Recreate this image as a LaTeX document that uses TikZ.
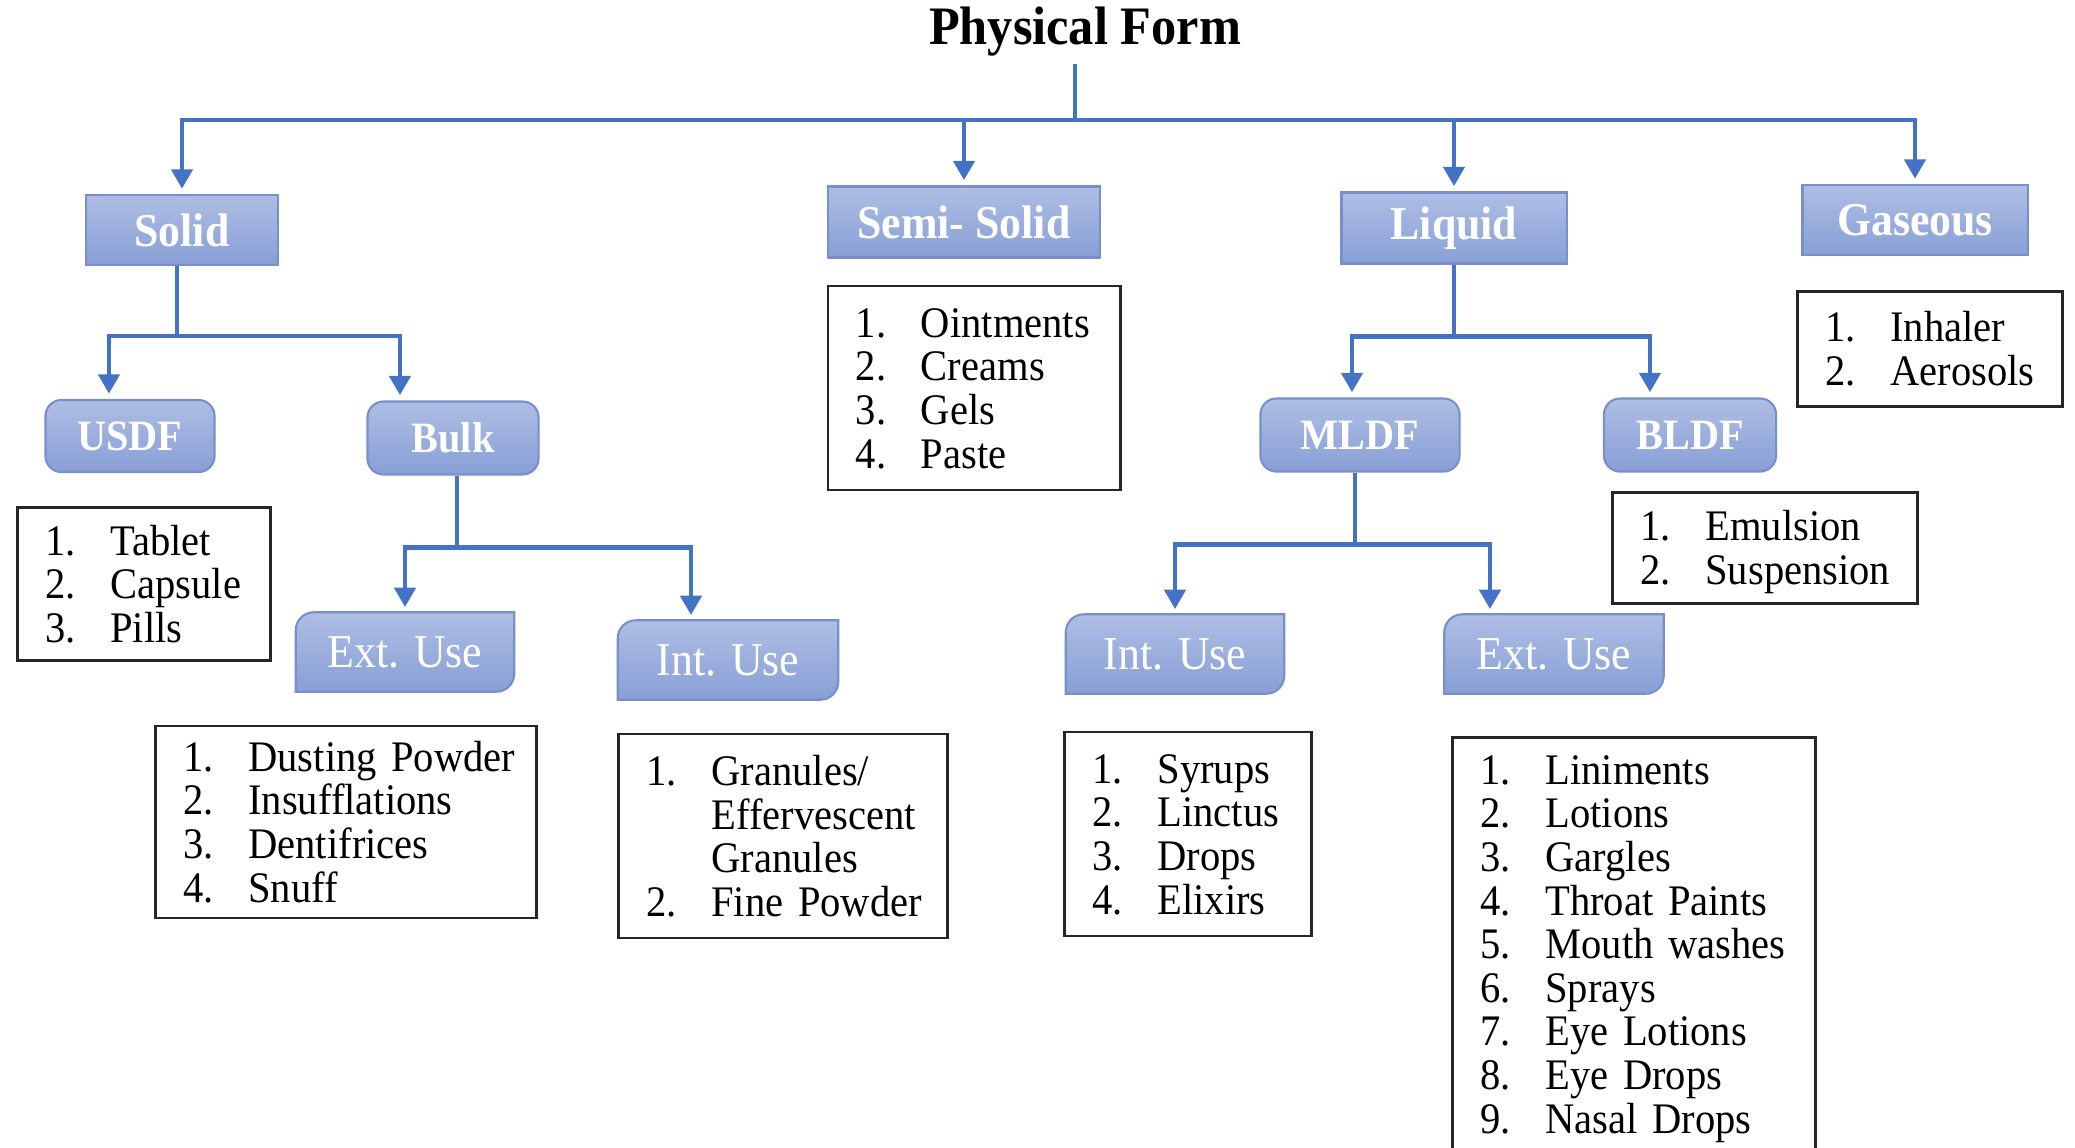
\documentclass[tikz,border=0pt]{standalone}
\usepackage{fontspec}
\setmainfont[FakeStretch=0.93]{Liberation Serif}
\usetikzlibrary{arrows.meta,backgrounds}

\definecolor{linkblue}{RGB}{68,114,196}
\definecolor{boxtop}{RGB}{174,190,228}
\definecolor{boxbot}{RGB}{136,159,214}
\definecolor{boxedge}{RGB}{120,143,203}

\tikzset{
  link/.style={draw=linkblue, line width=1.2pt},
  arr/.style={link, -{Triangle[width=6pt,length=5.5pt]}, shorten >=1.5pt},
  formbox/.style={rectangle, draw=boxedge, line width=0.6pt, top color=boxtop, bottom color=boxbot,
    text=white, inner sep=0pt, font=\fontsize{13.4}{15}\selectfont\bfseries},
  typebox/.style={formbox, rounded corners=0.16cm, font=\fontsize{12.3}{14}\selectfont\bfseries},
  usebox/.style={rectangle, inner sep=0pt, text=white, font=\fontsize{13.4}{15}\selectfont},
  usefill/.style={draw=boxedge, line width=0.6pt, top color=boxtop, bottom color=boxbot},
  listbox/.style={rectangle, draw=black!85, line width=0.8pt, inner xsep=0.28cm, inner ysep=0pt,
    align=left, font=\fontsize{12.4}{12.4}\selectfont},
}
\newcommand{\items}[1]{\raisebox{0pt}[\dimexpr\height+0.12cm\relax][\depth]{%
  \begin{tabular}{@{}p{0.65cm}@{}l@{}}#1\end{tabular}}}

\begin{document}
\begin{tikzpicture}[x=0.01cm, y=-0.01cm]

        \useasboundingbox (0,0) rectangle (2075,1147);

        %Title
        \node [font=\fontsize{15.4}{17}\selectfont\bfseries] (title) at (1085,32) {Physical Form};
        \coordinate (root) at (1075,64);
        \coordinate (hub) at (1075,120);

        %Physical forms
        \node [formbox, minimum width=1.92cm, minimum height=0.70cm] (solid) at (182,230) {Solid};
        \node [formbox, minimum width=2.72cm, minimum height=0.71cm] (semi) at (964,222) {Semi- Solid};
        \node [formbox, minimum width=2.25cm, minimum height=0.71cm] (liquid) at (1454,228) {Liquid};
        \node [formbox, minimum width=2.25cm, minimum height=0.70cm] (gas) at (1915,220) {Gaseous};

        \draw [link] (root) -- (hub);
        \draw [arr] (hub) -| (solid.north);
        \draw [arr] (hub) -| (semi.north);
        \draw [arr] (hub) -| (liquid.north);
        \draw [arr] (hub) -| (gas.north);

        %Solid
        \node [typebox, minimum width=1.69cm, minimum height=0.72cm] (usdf) at (130,436) {USDF};
        \node [typebox, minimum width=1.71cm, minimum height=0.73cm] (bulk) at (453,438) {Bulk};
        \draw [link] ([xshift=-0.05cm]solid.south) -- ++(0,70) coordinate (sj);
        \draw [arr] (sj) -| ([xshift=-0.21cm]usdf.north);
        \draw [arr] (sj) -| ([xshift=-0.53cm]bulk.north);

        \node [listbox, text width=1.97cm, minimum height=1.53cm] (usdflist) at (144,584)
          {\items{1. & Tablet\\ 2. & Capsule\\ 3. & Pills}};

        %Bulk
        \node [usebox, minimum width=2.17cm, minimum height=0.78cm] (bext) at (405,652) {Ext. Use};
        \node [usebox, minimum width=2.19cm, minimum height=0.78cm] (bint) at (728,660) {Int. Use};
        \draw [link] ([xshift=0.04cm]bulk.south) -- ++(0,72) coordinate (bj);
        \draw [arr] (bj) -| (bext.north);
        \draw [arr] (bj) -| ([xshift=-0.37cm]bint.north);

        \node [listbox, text width=3.25cm, minimum height=1.92cm] (bextlist) at (346,822)
          {\items{1. & Dusting Powder\\ 2. & Insufflations\\ 3. & Dentifrices\\ 4. & Snuff}};
        \node [listbox, text width=2.73cm, minimum height=2.04cm] (bintlist) at (783,836)
          {\items{1. & Granules/\\ & Effervescent\\ & Granules\\ 2. & Fine Powder}};

        %Semi-solid
        \node [listbox, text width=2.36cm, minimum height=2.04cm] (semilist) at (974,388)
          {\items{1. & Ointments\\ 2. & Creams\\ 3. & Gels\\ 4. & Paste}};

        %Liquid
        \node [typebox, minimum width=1.99cm, minimum height=0.73cm] (mldf) at (1360,435) {MLDF};
        \node [typebox, minimum width=1.72cm, minimum height=0.73cm] (bldf) at (1690,435) {BLDF};
        \draw [link] (liquid.south) -- ++(0,72) coordinate (lj);
        \draw [arr] (lj) -| ([xshift=-0.08cm]mldf.north);
        \draw [arr] (lj) -| ([xshift=-0.40cm]bldf.north);

        \node [listbox, text width=2.49cm, minimum height=1.11cm] (bldflist) at (1765,548)
          {\items{1. & Emulsion\\ 2. & Suspension}};

        %MLDF
        \node [usebox, minimum width=2.17cm, minimum height=0.78cm] (mint) at (1175,654) {Int. Use};
        \node [usebox, minimum width=2.18cm, minimum height=0.78cm] (mext) at (1554,654) {Ext. Use};
        \draw [link] ([xshift=-0.05cm]mldf.south) -- ++(0,72) coordinate (mj);
        \draw [arr] (mj) -| (mint.north);
        \draw [arr] (mj) -| ([xshift=-0.64cm]mext.north);

        \node [listbox, text width=1.91cm, minimum height=2.04cm] (mintlist) at (1188,834)
          {\items{1. & Syrups\\ 2. & Linctus\\ 3. & Drops\\ 4. & Elixirs}};
        \node [listbox, text width=3.07cm, minimum height=4.12cm] (mextlist) at (1634,944)
          {\items{1. & Liniments\\ 2. & Lotions\\ 3. & Gargles\\ 4. & Throat Paints\\ 5. & Mouth washes\\
            6. & Sprays\\ 7. & Eye Lotions\\ 8. & Eye Drops\\ 9. & Nasal Drops}};

        %Gaseous
        \node [listbox, text width=2.09cm, minimum height=1.15cm] (gaslist) at (1930,349)
          {\items{1. & Inhaler\\ 2. & Aerosols}};

        %Use boxes, two corners round
        \begin{scope}[on background layer]
          \foreach \n in {bext,bint,mint,mext}
            \path [usefill] (\n.south west) -- ([yshift=-0.18cm]\n.north west)
              arc [start angle=180, end angle=90, radius=0.18cm] -- (\n.north east)
              -- ([yshift=0.18cm]\n.south east) arc [start angle=0, end angle=-90, radius=0.18cm] -- cycle;
        \end{scope}

\end{tikzpicture}
\end{document}
